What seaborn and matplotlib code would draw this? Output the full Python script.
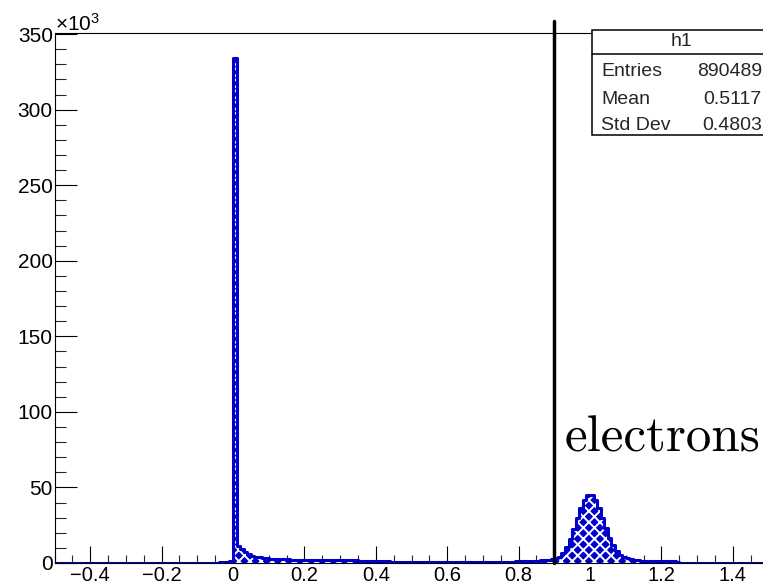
import numpy as np
import pandas as pd
import matplotlib
matplotlib.use("Agg")
import matplotlib.pyplot as plt
import seaborn as sns
from matplotlib.ticker import MultipleLocator, FuncFormatter
from matplotlib.patches import Rectangle
from matplotlib.lines import Line2D

# ---- histogram h1: 200 bins of width 0.01 on [-0.5, 1.5), counts in thousands ----
bin_lo = -0.5
bin_hi = 1.5
bin_width = 0.01
counts_k = [
    # -0.50 .. -0.41
    0.2, 0.2, 0.2, 0.2, 0.2, 0.2, 0.2, 0.2, 0.2, 0.2,
    # -0.40 .. -0.31
    0.2, 0.2, 0.2, 0.2, 0.2, 0.2, 0.2, 0.2, 0.2, 0.2,
    # -0.30 .. -0.21
    0.2, 0.2, 0.2, 0.2, 0.2, 0.2, 0.2, 0.2, 0.2, 0.2,
    # -0.20 .. -0.11
    0.2, 0.2, 0.2, 0.2, 0.2, 0.2, 0.2, 0.2, 0.2, 0.2,
    # -0.10 .. -0.01
    0.2, 0.2, 0.2, 0.3, 0.3, 0.3, 0.4, 0.5, 0.8, 1.2,
    # 0.00 .. 0.09
    334.0, 11.5, 9.0, 7.2, 5.8, 4.8, 4.2, 3.7, 3.3, 3.0,
    # 0.10 .. 0.19
    2.8, 2.7, 2.6, 2.5, 2.4, 2.4, 2.3, 2.3, 2.2, 2.2,
    # 0.20 .. 0.29
    2.1, 2.1, 2.0, 2.0, 2.0, 1.9, 1.9, 1.9, 1.8, 1.8,
    # 0.30 .. 0.39
    1.8, 1.7, 1.7, 1.7, 1.7, 1.6, 1.6, 1.6, 1.6, 1.5,
    # 0.40 .. 0.49
    1.5, 1.5, 1.4, 1.0, 0.9, 0.9, 0.9, 0.9, 0.8, 0.8,
    # 0.50 .. 0.59
    0.8, 0.8, 0.8, 0.8, 0.8, 0.8, 0.8, 0.8, 0.8, 0.8,
    # 0.60 .. 0.69
    0.8, 0.8, 0.8, 0.8, 0.8, 0.8, 0.8, 0.8, 0.8, 0.8,
    # 0.70 .. 0.79
    0.8, 0.8, 0.8, 0.8, 0.9, 0.9, 0.9, 0.9, 0.9, 1.0,
    # 0.80 .. 0.89
    1.2, 1.2, 1.3, 1.3, 1.4, 1.5, 1.7, 1.9, 2.1, 2.4,
    # 0.90 .. 0.99
    3.0, 4.2, 6.6, 10.6, 16.0, 22.5, 29.6, 36.3, 41.6, 44.7,
    # 1.00 .. 1.09
    44.7, 41.6, 36.3, 29.8, 23.0, 16.8, 11.8, 8.0, 5.5, 3.9,
    # 1.10 .. 1.19
    3.0, 2.4, 2.0, 1.8, 1.6, 1.4, 1.3, 1.2, 1.1, 1.1,
    # 1.20 .. 1.29
    1.0, 1.0, 1.0, 1.0, 0.5, 0.3, 0.3, 0.3, 0.3, 0.2,
    # 1.30 .. 1.39
    0.2, 0.2, 0.2, 0.2, 0.2, 0.2, 0.2, 0.2, 0.2, 0.2,
    # 1.40 .. 1.49
    0.2, 0.2, 0.2, 0.2, 0.2, 0.2, 0.2, 0.2, 0.2, 0.2,
]

stat_title = "h1"
stat_names = ["Entries", "Mean", "Std Dev"]
stat_values = ["890489", "0.5117", "0.4803"]

cut_value = 0.9
cut_top_k = 358.6
label_text = "electrons"

x_major = 0.2
x_minor = 0.05
y_major = 50
y_minor = 10
y_max_k = 350.7

BLUE = "#0000cc"
TICK_FS = 15.0
XTICK_FS = 14.5
STAT_FS = 14.0

sns.set_theme(style="white")
plt.rcParams["font.family"] = ["Liberation Sans", "DejaVu Sans"]
plt.rcParams["mathtext.default"] = "regular"
plt.rcParams["hatch.color"] = "white"
plt.rcParams["hatch.linewidth"] = 1.4

W, H = 763, 585
fig = plt.figure(figsize=(W / 100, H / 100), dpi=100)
fig.patch.set_facecolor("white")

# frame in pixel terms (x from -0.5 to 1.5, right edge runs past the canvas)
left_px, right_px, top_px, bottom_px = 54.5, 768.5, 33.0, 563.0
ax = fig.add_axes([left_px / W, 1 - bottom_px / H,
                   (right_px - left_px) / W, (bottom_px - top_px) / H])
ax.set_facecolor("white")

n_bins = len(counts_k)
centers = bin_lo + bin_width * (np.arange(n_bins) + 0.5)
df = pd.DataFrame({"x": centers, "w": counts_k})

# hatched fill (white pattern on blue)
sns.histplot(data=df, x="x", weights="w", binwidth=bin_width,
             binrange=(bin_lo, bin_hi), element="step",
             fill=True, facecolor=BLUE, edgecolor="white", hatch="xxx",
             linewidth=0, alpha=1, ax=ax)
# blue outline
sns.histplot(data=df, x="x", weights="w", binwidth=bin_width,
             binrange=(bin_lo, bin_hi), element="step",
             fill=False, color=BLUE, linewidth=2.2, ax=ax)

ax.set_xlim(bin_lo, bin_hi)
ax.set_ylim(0, y_max_k)
ax.set_xlabel("")
ax.set_ylabel("")
ax.grid(False)

for name, sp in ax.spines.items():
    sp.set_color("black")
    sp.set_linewidth(0.8)

ax.xaxis.set_major_locator(MultipleLocator(x_major))
ax.xaxis.set_minor_locator(MultipleLocator(x_minor))
ax.yaxis.set_major_locator(MultipleLocator(y_major))
ax.yaxis.set_minor_locator(MultipleLocator(y_minor))


def fmt_x(v, pos):
    s = f"{round(v, 6):g}"
    if s == "-0":
        s = "0"
    return s.replace("-", "\u2212")


ax.xaxis.set_major_formatter(FuncFormatter(fmt_x))
ax.yaxis.set_major_formatter(FuncFormatter(lambda v, p: f"{v:g}"))

ax.tick_params(axis="y", which="major", direction="in", length=15.8, width=0.8,
               pad=1.2, labelsize=TICK_FS, colors="black", left=True)
ax.tick_params(axis="y", which="minor", direction="in", length=8.2, width=0.8,
               left=True)
ax.tick_params(axis="x", which="major", direction="in", length=12.0, width=0.8,
               pad=2.2, labelsize=XTICK_FS, colors="black", bottom=True)
ax.tick_params(axis="x", which="minor", direction="in", length=5.8, width=0.8,
               bottom=True)

# cut line at x = 0.9
ax.add_line(Line2D([cut_value, cut_value], [0, cut_top_k], color="black",
                   linewidth=2.5, clip_on=False, zorder=5))

# annotation
ax.text(0.93, 73.5, label_text, fontfamily="cmr10", fontsize=36.8,
        ha="left", va="baseline", color="black", zorder=6)

# exponent label on the y axis
fig.text(55 / W, 1 - 31 / H, r"$\times10^{3}$", fontsize=TICK_FS,
         ha="left", va="baseline", color="black")

# statistics box
bx0, bx1, by0, by1, bmid = 592, 772, 30, 135, 54
fig.add_artist(Rectangle((bx0 / W, 1 - by1 / H), (bx1 - bx0) / W,
                         (by1 - by0) / H, transform=fig.transFigure,
                         facecolor="white", edgecolor="black", linewidth=1.1,
                         zorder=10))
fig.add_artist(Line2D([bx0 / W, bx1 / W], [1 - bmid / H, 1 - bmid / H],
                      transform=fig.transFigure, color="black",
                      linewidth=1.1, zorder=11))
fig.text((bx0 + bx1) / 2 / W, 1 - 42 / H, stat_title, fontsize=STAT_FS,
         ha="center", va="center", zorder=12)
row_y = [71, 99, 126]
for name, val, yy in zip(stat_names, stat_values, row_y):
    fig.text(601 / W, 1 - yy / H, name, fontsize=STAT_FS, ha="left",
             va="center", zorder=12)
    fig.text(762 / W, 1 - yy / H, val, fontsize=STAT_FS, ha="right",
             va="center", zorder=12)

fig.savefig("out.png", dpi=100, facecolor="white")
